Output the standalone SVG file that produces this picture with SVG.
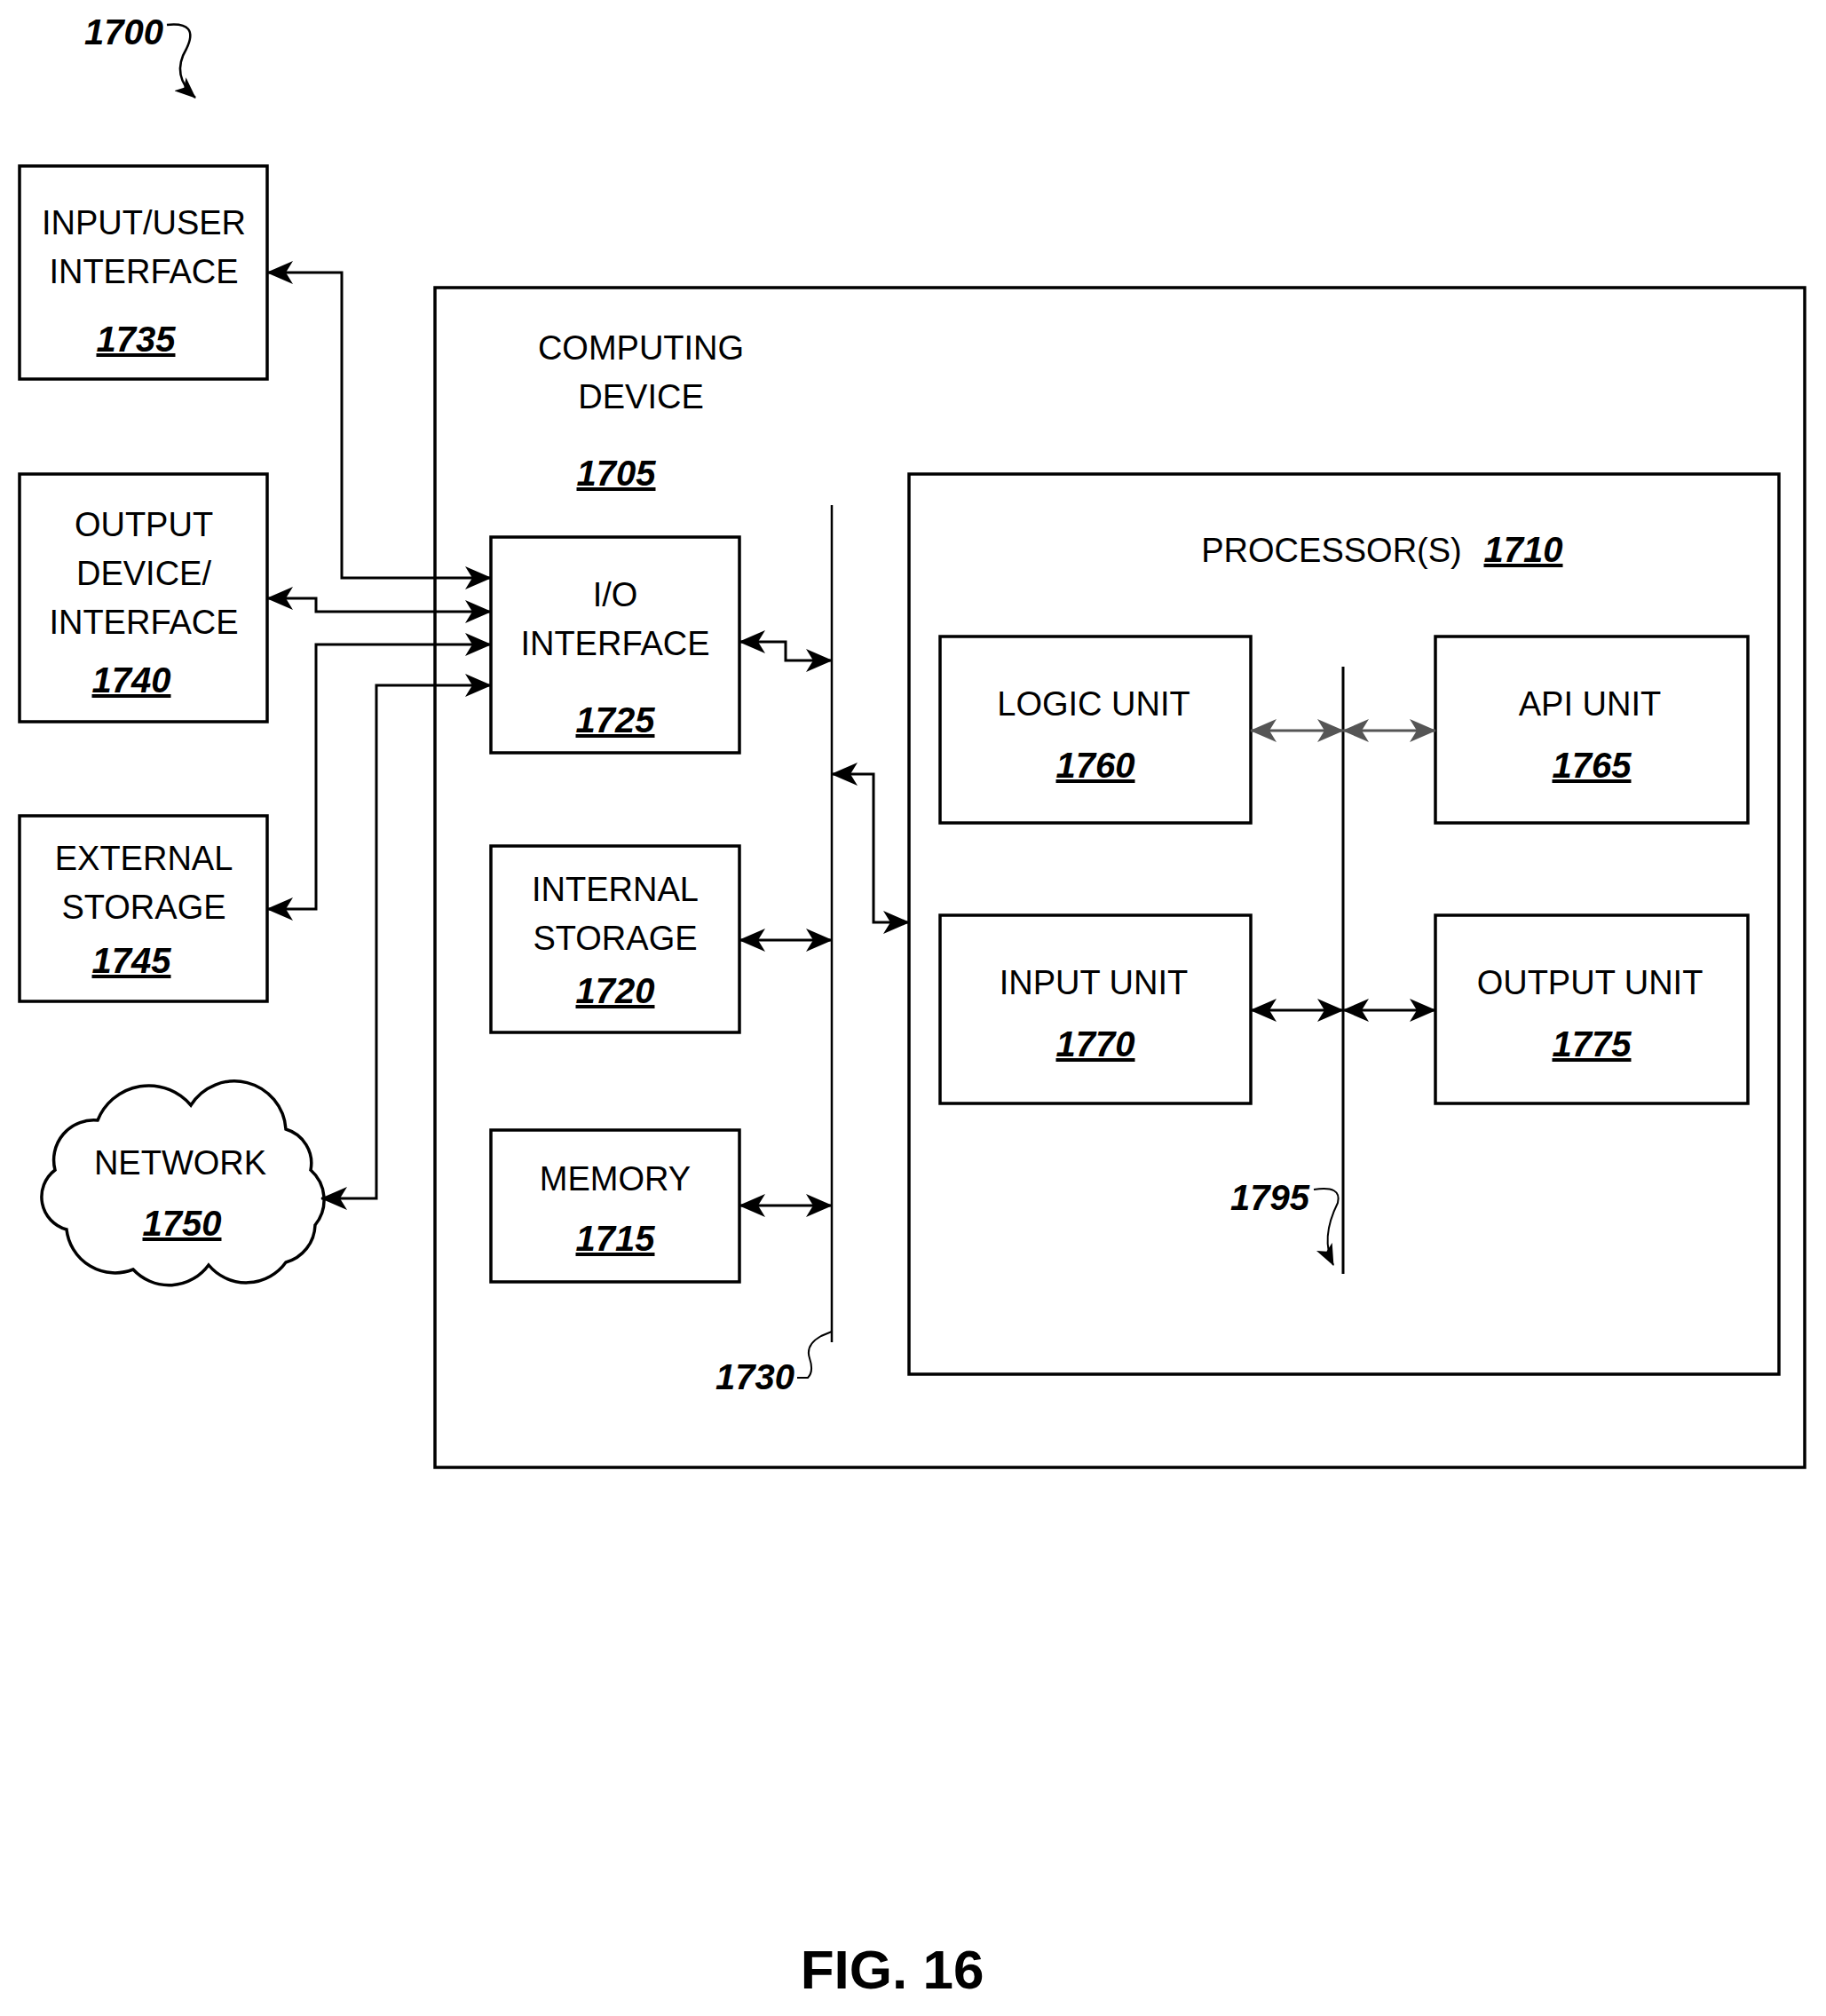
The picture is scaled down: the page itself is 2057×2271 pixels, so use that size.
<svg xmlns="http://www.w3.org/2000/svg" width="2057" height="2271" viewBox="0 0 2057 2271">
<style>
.b{fill:#fff;stroke:#000;stroke-width:3.5}
.t{font-family:"Liberation Sans",Arial,sans-serif;font-size:38px;text-anchor:middle;fill:#000}
.n{font-family:"Liberation Sans",Arial,sans-serif;font-size:40px;font-weight:bold;font-style:italic;text-decoration:underline;text-anchor:middle;fill:#000}
.l{font-family:"Liberation Sans",Arial,sans-serif;font-size:40px;font-weight:bold;font-style:italic;fill:#000}
.c{fill:none;stroke:#000;stroke-width:3}
.g{fill:none;stroke:#555;stroke-width:3}
</style>
<defs>
<marker id="a" markerWidth="30" markerHeight="26" refX="29" refY="13" orient="auto-start-reverse" markerUnits="userSpaceOnUse" viewBox="0 0 30 26"><path d="M0,0 L30,13 L0,26 L8,13Z" fill="#000"/></marker>
<marker id="ag" markerWidth="30" markerHeight="26" refX="29" refY="13" orient="auto-start-reverse" markerUnits="userSpaceOnUse" viewBox="0 0 30 26"><path d="M0,0 L30,13 L0,26 L8,13Z" fill="#555"/></marker>
<marker id="s" markerWidth="24" markerHeight="20" refX="23" refY="10" orient="auto" markerUnits="userSpaceOnUse" viewBox="0 0 24 20"><path d="M0,0 L24,10 L0,20 L6,10Z" fill="#000"/></marker>
</defs>
<rect width="2057" height="2271" fill="#fff"/>
<g id="label1700"><text class="l" x="95" y="50">1700</text><path class="c" d="M188,28 Q225,24 210,55 Q192,85 220,110" marker-end="url(#s)" style="stroke-width:2.5"/></g>
<g id="n1705"><rect class="b" x="490" y="324" width="1543" height="1329"/><text class="t" x="722" y="405">COMPUTING</text><text class="t" x="722" y="460">DEVICE</text><text class="n" x="694" y="547">1705</text></g>
<g id="n1735"><rect class="b" x="22" y="187" width="279" height="240"/><text class="t" x="162" y="264">INPUT/USER</text><text class="t" x="162" y="319">INTERFACE</text><text class="n" x="153" y="396">1735</text></g>
<g id="n1740"><rect class="b" x="22" y="534" width="279" height="279"/><text class="t" x="162" y="604">OUTPUT</text><text class="t" x="162" y="659">DEVICE/</text><text class="t" x="162" y="714">INTERFACE</text><text class="n" x="148" y="780">1740</text></g>
<g id="n1745"><rect class="b" x="22" y="919" width="279" height="209"/><text class="t" x="162" y="980">EXTERNAL</text><text class="t" x="162" y="1035">STORAGE</text><text class="n" x="148" y="1096">1745</text></g>
<g id="n1750"><path class="b" d="M62,1318 A45,45 0 0 1 110,1262 A62,62 0 0 1 215,1245 A58,58 0 0 1 322,1272 A40,40 0 0 1 350,1318 A45,45 0 0 1 355,1380 A45,45 0 0 1 322,1422 A55,55 0 0 1 235,1425 A55,55 0 0 1 150,1430 A55,55 0 0 1 75,1385 A38,38 0 0 1 62,1318Z"/><text class="t" x="203" y="1323">NETWORK</text><text class="n" x="205" y="1392">1750</text></g>
<g id="n1725"><rect class="b" x="553" y="605" width="280" height="243"/><text class="t" x="693" y="683">I/O</text><text class="t" x="693" y="738">INTERFACE</text><text class="n" x="693" y="825">1725</text></g>
<g id="n1720"><rect class="b" x="553" y="953" width="280" height="210"/><text class="t" x="693" y="1015">INTERNAL</text><text class="t" x="693" y="1070">STORAGE</text><text class="n" x="693" y="1130">1720</text></g>
<g id="n1715"><rect class="b" x="553" y="1273" width="280" height="171"/><text class="t" x="693" y="1341">MEMORY</text><text class="n" x="693" y="1409">1715</text></g>
<g id="n1710"><rect class="b" x="1024" y="534" width="980" height="1014"/><text class="t" x="1500" y="633">PROCESSOR(S)</text><text class="n" x="1716" y="633">1710</text></g>
<g id="n1760"><rect class="b" x="1059" y="717" width="350" height="210"/><text class="t" x="1232" y="806">LOGIC UNIT</text><text class="n" x="1234" y="876">1760</text></g>
<g id="n1765"><rect class="b" x="1617" y="717" width="352" height="210"/><text class="t" x="1791" y="806">API UNIT</text><text class="n" x="1793" y="876">1765</text></g>
<g id="n1770"><rect class="b" x="1059" y="1031" width="350" height="212"/><text class="t" x="1232" y="1120">INPUT UNIT</text><text class="n" x="1234" y="1190">1770</text></g>
<g id="n1775"><rect class="b" x="1617" y="1031" width="352" height="212"/><text class="t" x="1791" y="1120">OUTPUT UNIT</text><text class="n" x="1793" y="1190">1775</text></g>
<g id="n1730"><line x1="937" y1="569" x2="937" y2="1512" stroke="#000" stroke-width="2.5"/><text class="l" x="806" y="1565">1730</text><path class="c" d="M898,1552 L910,1552 Q917,1545 912,1530 Q907,1515 925,1505 L937,1500" style="stroke-width:2"/></g>
<g id="n1795"><line x1="1513" y1="751" x2="1513" y2="1435" stroke="#000" stroke-width="3"/><text class="l" x="1386" y="1363">1795</text><path class="c" d="M1480,1340 Q1512,1335 1507,1355 Q1487,1395 1502,1425" marker-end="url(#s)" style="stroke-width:2"/></g>
<g id="connectors">
<path class="c" d="M301,307 H385 V651 H553" marker-start="url(#a)" marker-end="url(#a)"/>
<path class="c" d="M301,674 H356 V689 H553" marker-start="url(#a)" marker-end="url(#a)"/>
<path class="c" d="M301,1024 H356 V726 H553" marker-start="url(#a)" marker-end="url(#a)"/>
<path class="c" d="M362,1350 H424 V772 H553" marker-start="url(#a)" marker-end="url(#a)"/>
<path class="c" d="M833,723 H885 V744 H937" marker-start="url(#a)" marker-end="url(#a)"/>
<path class="c" d="M937,872 H984 V1039 H1024" marker-start="url(#a)" marker-end="url(#a)"/>
<path class="c" d="M833,1059 H937" marker-start="url(#a)" marker-end="url(#a)"/>
<path class="c" d="M833,1358 H937" marker-start="url(#a)" marker-end="url(#a)"/>
<path class="g" d="M1409,823 H1513" marker-start="url(#ag)" marker-end="url(#ag)"/>
<path class="g" d="M1513,823 H1617" marker-start="url(#ag)" marker-end="url(#ag)"/>
<path class="c" d="M1409,1138 H1513" marker-start="url(#a)" marker-end="url(#a)"/>
<path class="c" d="M1513,1138 H1617" marker-start="url(#a)" marker-end="url(#a)"/>
</g>
<text x="1005" y="2240" font-family="Liberation Sans,Arial,sans-serif" font-size="62" font-weight="bold" text-anchor="middle">FIG. 16</text>
</svg>
